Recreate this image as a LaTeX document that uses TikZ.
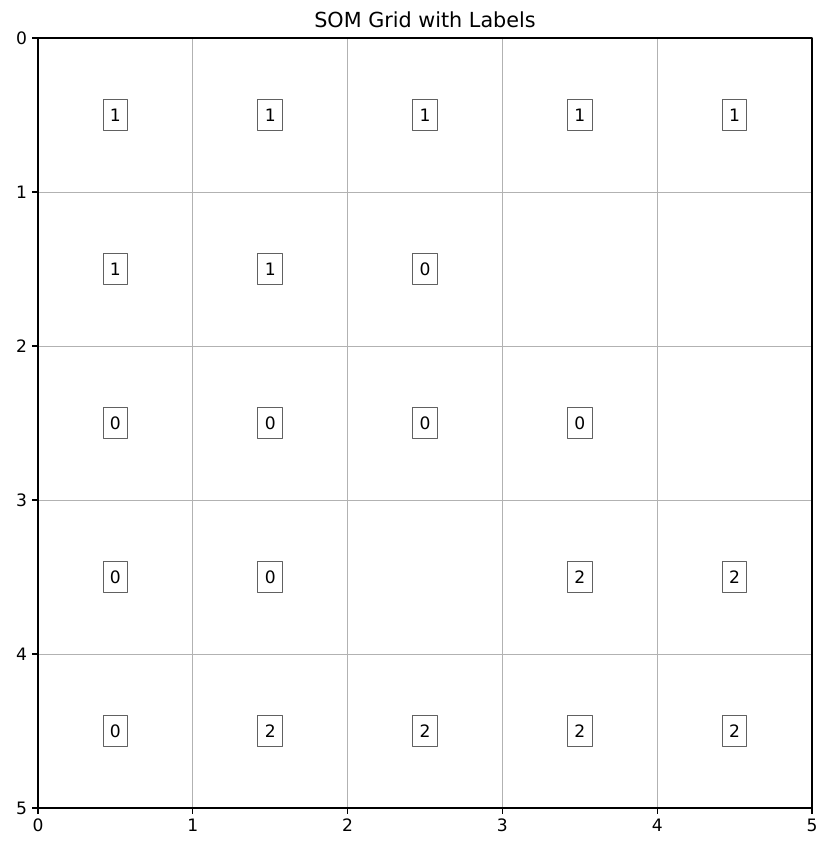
\documentclass[tikz,border=0pt]{standalone}
\usepackage{fontspec}
\setmainfont{DejaVu Sans}
\usepackage{tikz}

\begin{document}
\begin{tikzpicture}[x=4.644cm,y=-4.62cm,line join=round,font=\fontsize{14.6}{16}\selectfont,
    gridline/.style={draw=black!30,line width=0.8pt},
    spine/.style={draw=black,line width=0.9pt},
    tick/.style={draw=black,line width=0.9pt},
    labelbox/.style={draw=black!62,fill=white,line width=1pt,inner sep=0pt,
        minimum width=21pt,minimum height=27pt}]
% ================= frame and grid =================
  \useasboundingbox (-0.2455,-0.2468) rectangle (5.1357,5.2208);
  \fill[white] (-0.2455,-0.2468) rectangle (5.1357,5.2208);
  \foreach \k in {1,...,4}{
      \draw[gridline] (\k,0) -- (\k,5);
      \draw[gridline] (0,\k) -- (5,\k);}
  \draw[spine] (0,0) rectangle (5,5);
  % ticks and tick labels
  \foreach \k in {0,...,5}{
      \draw[tick] (\k,5) -- ++(0,0.038) node[below=0.5pt] (xt\k) {\k};
      \draw[tick] (0,\k) -- ++(-0.038,0) node[left=0.5pt] (yt\k) {\k};}
  \node (title) at (2.5,-0.12) {\fontsize{17.7}{20}\selectfont SOM Grid with Labels};
% ================= cell labels =================
  \foreach \c/\r/\v in {0/0/1,1/0/1,2/0/1,3/0/1,4/0/1,
                        0/1/1,1/1/1,2/1/0,
                        0/2/0,1/2/0,2/2/0,3/2/0,
                        0/3/0,1/3/0,3/3/2,4/3/2,
                        0/4/0,1/4/2,2/4/2,3/4/2,4/4/2}{
      \node[labelbox] (cell-\c-\r) at (\c+0.5,\r+0.5) {\v};}
\end{tikzpicture}
\end{document}
